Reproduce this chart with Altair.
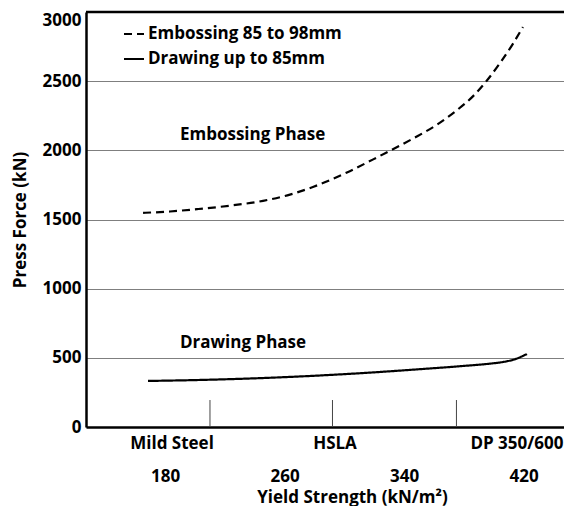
import altair as alt
import pandas as pd

# ---- data ----
emb_x = [165.2, 183.2, 201.3, 223.4, 245.5, 263.5, 278.9, 301.7, 323.8, 345.9, 361.9, 375.3, 386.0, 395.4, 404.1, 412.8, 419.5]
emb_y = [1548, 1558, 1575, 1600, 1635, 1680, 1735, 1840, 1960, 2085, 2185, 2290, 2390, 2505, 2630, 2770, 2892]
drw_x = [168.5, 203.3, 245.5, 312.4, 350.6, 379.3, 397.4, 406.1, 414.2, 422.2]
drw_y = [333, 340, 354, 390, 418, 441, 458, 470, 490, 528]
series_names = ["Embossing 85 to 98mm", "Drawing up to 85mm"]

yield_ticks = [180, 260, 340, 420]
force_ticks = [0, 500, 1000, 1500, 2000, 2500, 3000]
materials = ["Mild Steel", "HSLA", "DP 350/600"]
material_x = [184.6, 293.7, 415.5]
divider_x = [210, 292, 375]
divider_top = [195, 195, 195]
phase_labels = ["Embossing Phase", "Drawing Phase"]
phase_x = [189.9, 189.9]
phase_y = [2111, 607]

FONT = "Open Sans"
FS = 17
W, H = 478, 415

lines_df = pd.DataFrame(
    {"yield": emb_x + drw_x,
     "force": emb_y + drw_y,
     "series": [series_names[0]] * len(emb_x) + [series_names[1]] * len(drw_x)}
)
div_df = pd.DataFrame({"x": divider_x, "y": [0] * len(divider_x), "y2": divider_top})
phase_df = pd.DataFrame({"label": phase_labels, "x": phase_x, "y": phase_y})
mat_df = pd.DataFrame({"label": materials, "x": material_x})

xscale = alt.Scale(domain=[127, 447], nice=False, zero=False)
yscale = alt.Scale(domain=[0, 3000], nice=False)

x_axis = alt.Axis(
    values=yield_ticks, grid=False, ticks=False, domainColor="black", domainWidth=2.5,
    labelFont=FONT, labelFontSize=FS, labelFontWeight="bold", labelColor="black",
    labelPadding=49, labelBaseline="middle",
    title="Yield Strength (kN/m²)", titleFont=FONT, titleFontSize=FS, titleFontWeight="bold",
    titleColor="black", titleX=266, titleY=75, titleBaseline="alphabetic", titleAlign="center",
)
y_axis = alt.Axis(
    values=force_ticks, format="d", grid=True, gridColor="#7f7f7f", gridWidth=1, ticks=False,
    domainColor="black", domainWidth=2.5,
    labelFont=FONT, labelFontSize=FS, labelFontWeight="bold", labelColor="black", labelPadding=5,
    labelBaseline={"condition": {"test": "datum.value == 3000", "value": "top"}, "value": "middle"},
    title="Press Force (kN)", titleFont=FONT, titleFontSize=17, titleFontWeight="bold",
    titleColor="black", titleX=-66, titleY=H / 2, titleAlign="center", titleBaseline="middle",
    titleAngle=270,
)

lines = alt.Chart(lines_df).mark_line(color="black", strokeWidth=2.2, interpolate="monotone").encode(
    x=alt.X("yield:Q", scale=xscale, axis=x_axis),
    y=alt.Y("force:Q", scale=yscale, axis=y_axis),
    strokeDash=alt.StrokeDash(
        "series:N",
        scale=alt.Scale(domain=series_names, range=[[8, 5], [1, 0]]),
        legend=alt.Legend(
            title=None, orient="none", legendX=37, legendY=11, symbolType="stroke",
            symbolSize=400, symbolStrokeWidth=2, symbolStrokeColor="black",
            labelFont=FONT, labelFontSize=FS, labelFontWeight="bold", labelColor="black",
            labelOffset=3, labelLimit=400, rowPadding=6, padding=0,
        ),
    ),
    detail="series:N",
)

top_border = alt.Chart(pd.DataFrame({"y": [3000]})).mark_rule(color="black", strokeWidth=2.5).encode(
    y=alt.Y("y:Q", scale=yscale)
)

dividers = alt.Chart(div_df).mark_rule(color="#444444", strokeWidth=1).encode(
    x=alt.X("x:Q", scale=xscale), y=alt.Y("y:Q", scale=yscale), y2="y2:Q"
)

phases = alt.Chart(phase_df).mark_text(
    font=FONT, fontSize=FS, fontWeight="bold", color="black", align="left", baseline="middle"
).encode(x=alt.X("x:Q", scale=xscale), y=alt.Y("y:Q", scale=yscale), text="label:N")

mats = alt.Chart(mat_df).mark_text(
    font=FONT, fontSize=FS, fontWeight="bold", color="black", align="center", baseline="middle"
).encode(x=alt.X("x:Q", scale=xscale), y=alt.value(H + 17), text="label:N")

chart = alt.layer(lines, top_border, dividers, phases, mats).properties(
    width=W, height=H,
    autosize=alt.AutoSizeParams(type="none"),
    padding={"left": 78, "top": 4, "right": 0, "bottom": 79},
).configure_view(stroke="transparent")

chart.save("out.html", embed_options={"renderer": "svg", "actions": False})
